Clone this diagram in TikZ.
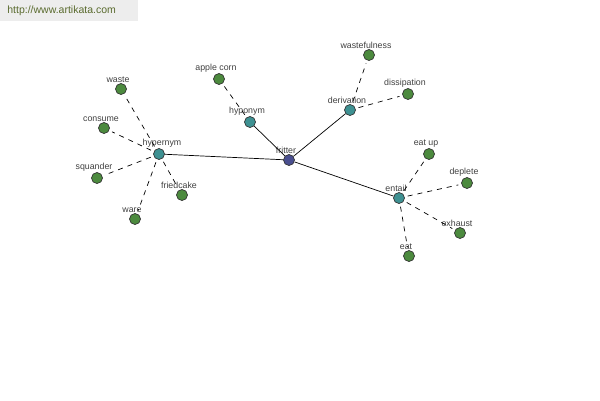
\documentclass[tikz,border=0pt]{standalone}
\usepackage{fontspec}
\setmainfont{Liberation Sans}
\usepackage{xcolor}

\definecolor{leafgreen}{HTML}{4C8A3E}
\definecolor{relteal}{HTML}{3E9192}
\definecolor{rootblue}{HTML}{4A4F90}
\definecolor{urlgreen}{HTML}{5A6B2E}
\definecolor{urlback}{HTML}{EDEDED}

\begin{document}
\begin{tikzpicture}
  [x=1pt,y=-1pt,
   every node/.style={circle,draw=black!80,line width=.7pt,inner sep=0pt,minimum size=11pt,fill=leafgreen},
   rel/.style={fill=relteal},
   root/.style={fill=rootblue},
   lbl/.style={draw=none,fill=none,rectangle,minimum size=0pt,inner sep=1pt,font=\fontsize{8.8}{9}\selectfont,text=black!75},
   every label/.style={lbl,label distance=-1pt,xshift=-3pt},
   link/.style={line width=.7pt},
   sub/.style={line width=.7pt,dash pattern=on 5pt off 5pt,shorten <=3pt,shorten >=3pt}]
  \useasboundingbox (0,0) rectangle (600,400);
  \fill[urlback] (0,0) rectangle (138,21);
  \node[lbl,font=\fontsize{10.5}{11}\selectfont,text=urlgreen,anchor=west] (url) at (6,11) {http://www.artikata.com};

  \node[root,label=above:fritter] (fritter) at (289,160) {};
  \node[rel,label={[xshift=6pt]above:hypernym}] (hypernym) at (159,154) {};
  \node[rel,label=above:hyponym] (hyponym) at (250,122) {};
  \node[rel,label=above:derivation] (derivation) at (350,110) {};
  \node[rel,label=above:entail] (entail) at (399,198) {};

  \node[label=above:waste] (waste) at (121,89) {};
  \node[label=above:consume] (consume) at (104,128) {};
  \node[label=above:squander] (squander) at (97,178) {};
  \node[label=above:ware] (ware) at (135,219) {};
  \node[label=above:friedcake] (friedcake) at (182,195) {};
  \node[label=above:apple corn] (applecorn) at (219,79) {};
  \node[label=above:wastefulness] (wastefulness) at (369,55) {};
  \node[label=above:dissipation] (dissipation) at (408,94) {};
  \node[label=above:eat up] (eatup) at (429,154) {};
  \node[label=above:deplete] (deplete) at (467,183) {};
  \node[label=above:exhaust] (exhaust) at (460,233) {};
  \node[label=above:eat] (eat) at (409,256) {};

  \foreach \to in {hypernym,hyponym,derivation,entail}
    \draw[link] (fritter) -- (\to);
  \foreach \from/\to in {hypernym/waste,hypernym/consume,hypernym/squander,hypernym/ware,hypernym/friedcake,
    hyponym/applecorn,derivation/wastefulness,derivation/dissipation,
    entail/eatup,entail/deplete,entail/exhaust,entail/eat}
    \draw[sub] (\from) -- (\to);

\end{tikzpicture}
\end{document}
